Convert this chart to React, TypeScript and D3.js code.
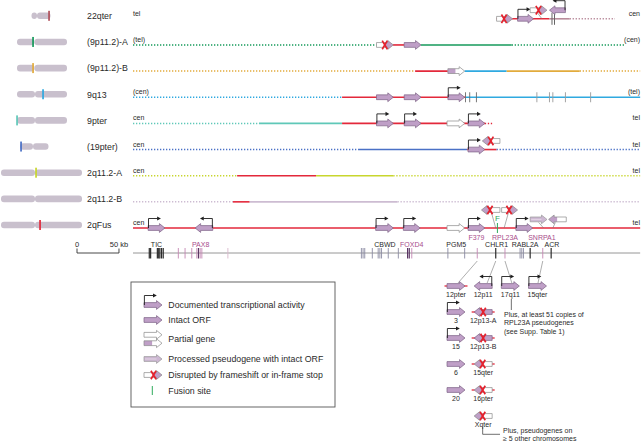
import React from "react";
import * as d3 from "d3";

const FONT = "'Liberation Sans', Arial, Helvetica, sans-serif";

// ---------- data ----------
const rowNames = ["22qter", "(9p11.2)-A", "(9p11.2)-B", "9q13", "9pter", "(19pter)", "2q11.2-A", "2q11.2-B", "2qFus"];
const leftEnds = ["tel", "(tel)", "", "(cen)", "cen", "cen", "cen", "", "cen"];
const rightEnds = ["cen", "(cen)", "", "(tel)", "tel", "tel", "tel", "", "tel"];

const COLORS: Record<string, string> = {
  red: "#e3293b",
  rose: "#b98b9b",
  green: "#169a5b",
  gold: "#e2ab3c",
  sky: "#2fa9e0",
  teal: "#5fc8b8",
  blue: "#4a71c6",
  lime: "#c8d62e",
  mauve: "#cdbcd2",
  band22: "#b0505a",
};

// [row, fromKb, toKb, color, dotted]
const segments: [number, number, number, string, boolean][] = [
  [0, 433, 496, "red", false],
  [0, 496, 520, "rose", false],
  [0, 520, 574, "rose", true],
  [1, 0, 290, "green", true],
  [1, 308, 323, "red", false],
  [1, 343, 451, "green", false],
  [1, 451, 586, "green", true],
  [2, 0, 336, "gold", true],
  [2, 336, 375, "red", false],
  [2, 395, 445, "sky", false],
  [2, 445, 532, "gold", false],
  [2, 532, 604, "gold", true],
  [3, 0, 249, "sky", true],
  [3, 249, 396, "red", false],
  [3, 396, 604, "sky", false],
  [4, 0, 150, "teal", true],
  [4, 150, 249, "teal", false],
  [4, 249, 419, "red", false],
  [4, 419, 429, "red", true],
  [5, 0, 268, "blue", true],
  [5, 268, 398, "blue", false],
  [5, 398, 433, "red", false],
  [5, 433, 604, "blue", true],
  [6, 0, 124, "lime", true],
  [6, 124, 218, "red", false],
  [6, 218, 310, "lime", false],
  [6, 310, 604, "lime", true],
  [7, 0, 119, "mauve", true],
  [7, 119, 139, "red", false],
  [7, 139, 315, "mauve", false],
  [7, 315, 604, "mauve", true],
  [8, 0, 604, "red", false],
];

// [row, startKb, endKb, direction, type, tss, level]
const genes: [number, number, number, number, string, boolean, number][] = [
  [0, 433, 452, 1, "dpartial", false, 0],
  [0, 458, 477, 1, "intact", true, 0],
  [0, 473, 493, 1, "dpartial", false, 1],
  [0, 496, 515, -1, "intact", true, 1],
  [1, 290, 310, 1, "dpartial", false, 0],
  [1, 323, 343, 1, "intact", false, 0],
  [2, 375, 395, 1, "tailpink", false, 0],
  [3, 290, 310, 1, "intact", false, 0],
  [3, 323, 343, 1, "intact", false, 0],
  [3, 375, 395, 1, "intact", true, 0],
  [4, 290, 310, 1, "intact", true, 0],
  [4, 323, 343, 1, "intact", true, 0],
  [4, 374, 395, 1, "partial", false, 0],
  [4, 399, 419, 1, "intact", true, 0],
  [5, 399, 419, 1, "intact", true, 0],
  [5, 416, 437, -1, "dpartial", false, 1],
  [8, 18, 38, 1, "intact", true, 0],
  [8, 74, 95, -1, "intact", true, 0],
  [8, 289, 310, 1, "intact", true, 0],
  [8, 322, 342, 1, "intact", true, 0],
  [8, 374, 395, 1, "partial", false, 0],
  [8, 399, 419, 1, "intact", true, 0],
  [8, 415, 437, -1, "dpartial", false, 2],
  [8, 439, 458, 1, "dpartialR", false, 2],
  [8, 456, 476, 1, "intact", true, 0],
  [8, 473, 493, 1, "processed", false, 1],
  [8, 495, 516, -1, "headpink", false, 1],
];

// [row, fromKb (upper), level, toKb (on line)]
const connectors: [number, number, number, number][] = [
  [0, 482, 1, 487],
  [8, 427, 2, 432],
  [8, 447, 2, 442],
  [8, 483, 1, 489],
  [8, 503, 1, 500],
];
const bars22: number[] = [499, 502];
const ticks9q13: number[] = [396, 401, 409, 481, 496, 500, 515, 545];
const fusionKb = 434;

// ideograms: [row, start, centromere, end, band, bandColor]
const ideograms: [number, number, number, number, number | null, string][] = [
  [0, 31.5, 37, 50.5, 49, "band22"],
  [1, 17, 34.5, 67, 33, "green"],
  [2, 17, 34.5, 67, 33, "gold"],
  [3, 17, 35, 67, 43, "sky"],
  [4, 17, 35, 67, 17, "teal"],
  [5, 20, 33, 48.5, 21, "blue"],
  [6, 1, 35, 82, 36, "lime"],
  [7, 1, 35, 82, null, ""],
  [8, 1, 35, 82, 40, "red"],
];

// gene map ticks: [kb, kind]
const geneTicks: [number, string][] = [
  [19.4, "k"], [21, "k"], [29, "k"], [30.6, "k"], [32, "k"], [34, "k"], [36, "k"],
  [54, "p"], [62, "p"], [70, "p"], [76, "p"], [78, "d"], [80, "p"], [82, "p"], [113, "lp"],
  [272, "g"], [274, "g"], [276, "g"], [285, "g"], [292, "g"], [294, "g"], [296, "g"], [304, "g"], [316, "g"],
  [327, "d"], [329, "d"], [332, "p"],
  [375, "g"], [395, "g"],
  [410, "p"], [432, "k"], [443, "p"],
  [461, "g"], [463, "g"], [465, "g"], [473, "k"],
  [488, "p"], [498, "k"],
];
// [name, kb, tier, pink]
const geneLabels: [string, number, number, boolean][] = [
  ["TIC", 28, 0, false],
  ["PAX8", 80.6, 0, true],
  ["CBWD", 300, 0, false],
  ["FOXD4", 332, 0, true],
  ["PGM5", 385, 0, false],
  ["F379", 409, 1, true],
  ["RPL23A", 443, 1, true],
  ["SNRPA1", 487, 1, true],
  ["CHLR1", 433, 0, false],
  ["RABL2A", 467, 0, false],
  ["ACR", 499, 0, false],
];

// [name, column, row, direction, type, tss, redFlank]
const orthologs: [string, number, number, number, string, boolean, boolean][] = [
  ["12pter", 0, 0, 1, "intact", false, true],
  ["12p11", 1, 0, -1, "intact", true, false],
  ["17q11", 2, 0, 1, "intact", true, false],
  ["15qter", 3, 0, 1, "intact", true, false],
  ["3", 0, 1, 1, "intact", true, false],
  ["15", 0, 2, 1, "intact", true, false],
  ["6", 0, 3, 1, "intact", false, false],
  ["20", 0, 4, 1, "intact", false, false],
  ["12p13-A", 1, 1, -1, "disrupted", false, true],
  ["12p13-B", 1, 2, -1, "disrupted", false, true],
  ["15qter", 1, 3, -1, "dpartial", false, true],
  ["16pter", 1, 4, -1, "dpartial", false, true],
  ["Xqter", 1, 5, -1, "dpartial", false, false],
];
// [geneKb, ortholog column]
const orthoLinks: [number, number][] = [[410, 0], [432, 1], [443, 2], [488, 3]];

const noteRPL = ["Plus, at least 51 copies of", "RPL23A pseudogenes", "(see Supp. Table 1)"];
const noteOther = ["Plus, pseudogenes on", "\u2265 5 other chromosomes"];

const legendLabels = [
  "Documented transcriptional activity",
  "Intact ORF",
  "Partial gene",
  "Processed pseudogene with intact ORF",
  "Disrupted by frameshift or in-frame stop",
  "Fusion site",
];

// ---------- glyph ----------
const PINK = "#bf9fc7";
const EDGE = "#7c6385";
const GREY = "#8a8a8a";

function Glyph(props: { x0: number; x1: number; y: number; dir: number; type: string; tss: boolean }) {
  const { x0, x1, y, dir, type, tss } = props;
  const bh = 2.4, hh = 4.4, hl = 5.5;
  const outline = `M${x0},${y - bh}L${x1 - hl},${y - bh}L${x1 - hl},${y - hh}L${x1},${y}L${x1 - hl},${y + hh}L${x1 - hl},${y + bh}L${x0},${y + bh}Z`;
  let fill = PINK, stroke = EDGE;
  let overlay: any = null;
  const xm = x1 - hl - 3;
  if (type === "partial") { fill = "#fff"; stroke = GREY; }
  if (type === "tailpink") {
    fill = "#fff"; stroke = GREY;
    overlay = <rect x={x0} y={y - bh} width={(x1 - x0) * 0.45} height={2 * bh} fill={PINK} />;
  }
  if (type === "headpink" || type === "dpartial" || type === "dpartialR") {
    fill = "#fff"; stroke = GREY;
    overlay = <path d={`M${xm},${y - bh}L${x1 - hl},${y - bh}L${x1 - hl},${y - hh}L${x1},${y}L${x1 - hl},${y + hh}L${x1 - hl},${y + bh}L${xm},${y + bh}Z`} fill={PINK} />;
  }
  if (type === "processed") { fill = "#cdb8d3"; stroke = "#9a9a9a"; }
  const showX = type === "dpartial" || type === "disrupted" || type === "dpartialR";
  const cx = type === "disrupted" ? (x0 + x1) / 2 : xm;
  const flip = dir < 0 ? `translate(${x0 + x1},0) scale(-1,1)` : undefined;
  return (
    <g transform={flip}>
      <path d={outline} fill={fill} />
      {overlay}
      <path d={outline} fill="none" stroke={stroke} strokeWidth={0.7} />
      {type === "processed" && <line x1={x0 + 1} x2={x1 - hl} y1={y} y2={y} stroke="#e8dcea" strokeWidth={0.8} />}
      {showX && (
        <path d={`M${cx - 2.6},${y - 4.3}L${cx + 2.6},${y + 4.3}M${cx + 2.6},${y - 4.3}L${cx - 2.6},${y + 4.3}`} stroke="#e5212d" strokeWidth={1.7} />
      )}
      {tss && (
        <g>
          <path d={`M${x0 + 0.4},${y}V${y - 9.5}H${x0 + 9.5}`} fill="none" stroke="#1e1e1e" strokeWidth={0.9} />
          <path d={`M${x0 + 9},${y - 11.6}L${x0 + 12.8},${y - 9.5}L${x0 + 9},${y - 7.4}Z`} fill="#1e1e1e" />
        </g>
      )}
    </g>
  );
}

export default function App() {
  const x = d3.scaleLinear().domain([0, 605]).range([133, 641]);
  const rowY = d3.scaleLinear().domain([0, 8]).range([18.8, 228]);
  const levelOffset = d3.scaleOrdinal<number, number>().domain([0, 1, 2]).range([0, -8.6, -18]);
  const ideoX = d3.scaleLinear().domain([0, 82]).range([0, 82]);
  const orthoCol = d3.scaleLinear().domain([0, 3]).range([456, 537.5]);
  const orthoRow = d3.scaleLinear().domain([0, 5]).range([286, 416]);
  const legendY = d3.scaleOrdinal<number, number>().domain([0, 1, 2, 3, 4, 5]).range([305, 320, 339, 359, 375, 390.5]);
  const axisY = 253;
  const tickColor: Record<string, string> = { k: "#2b2b2b", p: "#c487b3", lp: "#d8b8cc", g: "#8a8aa2", d: "#5a3563" };
  const labelPink = "#a94d8c";
  const txt = "#2a2a2a";

  const segLines = segments.map(([r, a, b, c, dotted], i) => (
    <line key={"s" + i} x1={x(a)} x2={x(b)} y1={rowY(r)} y2={rowY(r)} stroke={COLORS[c]}
      strokeWidth={dotted ? 1.5 : 1.6} strokeDasharray={dotted ? "1.3 1.7" : undefined} />
  ));

  return (
    <svg width={642} height={441} viewBox="0 0 642 441" style={{ position: "absolute", left: 0, top: 0, background: "#fff" }} fontFamily={FONT}>
      <rect width={642} height={441} fill="#fff" />
      {/* ideograms */}
      {ideograms.map(([r, s, c, e, band, bc], i) => {
        const cy = rowY(r) - 3;
        const h = 6.6;
        return (
          <g key={"i" + i}>
            <rect x={ideoX(s)} y={cy - h / 2} width={ideoX(c) - ideoX(s)} height={h} rx={3} fill="#c9c0cd" />
            <rect x={ideoX(c)} y={cy - h / 2} width={ideoX(e) - ideoX(c)} height={h} rx={3} fill="#c9c0cd" />
            {band !== null && <rect x={ideoX(band) - 0.8} y={cy - 5} width={1.7} height={10} fill={COLORS[bc]} />}
          </g>
        );
      })}
      {/* row labels */}
      {rowNames.map((n, i) => (
        <text key={"rn" + i} x={87} y={rowY(i) + 0.3} fontSize={8.8} fill={txt}>{n}</text>
      ))}
      {leftEnds.map((n, i) => n && (
        <text key={"le" + i} x={133} y={rowY(i) - 3} fontSize={7} fill={txt}>{n}</text>
      ))}
      {rightEnds.map((n, i) => n && (
        <text key={"re" + i} x={640} y={rowY(i) - 3} fontSize={7} fill={txt} textAnchor="end">{n}</text>
      ))}
      {segLines}
      {/* 9q13 ticks */}
      {ticks9q13.map((k, i) => (
        <line key={"t9" + i} x1={x(k)} x2={x(k)} y1={rowY(3) - 5} y2={rowY(3) + 5} stroke={i < 3 ? "#6a6a6a" : "#9a9a9a"} strokeWidth={0.9} />
      ))}
      {bars22.map((k, i) => (
        <line key={"b22" + i} x1={x(k)} x2={x(k)} y1={rowY(0) - 6} y2={rowY(0) + 6} stroke="#666" strokeWidth={1} />
      ))}
      {connectors.map(([r, a, lv, b], i) => (
        <line key={"c" + i} x1={x(a)} y1={rowY(r) + levelOffset(lv) + 3} x2={x(b)} y2={rowY(r)} stroke="#777" strokeWidth={0.6} />
      ))}
      {/* genes */}
      {genes.map(([r, a, b, dir, type, tss, lv], i) => (
        <Glyph key={"g" + i} x0={x(a)} x1={x(b)} y={rowY(r) + levelOffset(lv)} dir={dir} type={type} tss={tss} />
      ))}
      {/* fusion site */}
      <line x1={x(fusionKb)} x2={x(fusionKb)} y1={rowY(8) - 5} y2={rowY(8) + 5} stroke="#2faa5c" strokeWidth={1} />
      <text x={x(fusionKb)} y={rowY(8) - 7.5} fontSize={8} fill="#2faa5c" textAnchor="middle">F</text>

      {/* scale bar */}
      <path d={`M77,${axisY - 4.5}V${axisY}H${77 + x(50) - x(0)}V${axisY - 4.5}`} fill="none" stroke="#333" strokeWidth={0.9} />
      <text x={77} y={246.5} fontSize={7.5} fill={txt} textAnchor="middle">0</text>
      <text x={119} y={246.5} fontSize={7.5} fill={txt} textAnchor="middle">50 kb</text>

      {/* gene map axis */}
      <line x1={x(0)} x2={x(604)} y1={axisY} y2={axisY} stroke="#8a8a8a" strokeWidth={0.9} />
      {geneTicks.map(([k, kind], i) => (
        <line key={"gt" + i} x1={x(k)} x2={x(k)} y1={axisY - 5} y2={axisY + 5.5} stroke={tickColor[kind]} strokeWidth={kind === "k" || kind === "d" ? 1.2 : 0.9} />
      ))}
      {geneLabels.map(([n, k, tier, pink], i) => (
        <text key={"gl" + i} x={x(k)} y={tier === 0 ? 247 : 240} fontSize={7} fill={pink ? labelPink : txt} textAnchor="middle">{n}</text>
      ))}
      {orthoLinks.map(([k, c], i) => (
        <line key={"ol" + i} x1={x(k)} y1={261} x2={orthoCol(c) + [2, 4, 1.5, 0.5][i]} y2={283} stroke="#777" strokeWidth={0.6} />
      ))}
      {/* orthologs */}
      {orthologs.map(([n, c, r, dir, type, tss, flank], i) => {
        const cx = orthoCol(c), cy = orthoRow(r);
        return (
          <g key={"o" + i}>
            {flank && <line x1={cx - 11.5} x2={cx + 11.5} y1={cy} y2={cy} stroke={COLORS.red} strokeWidth={1.3} />}
            <Glyph x0={cx - 9} x1={cx + 9} y={cy} dir={dir} type={type} tss={tss} />
            <text x={cx} y={cy + 11} fontSize={7} fill={txt} textAnchor="middle">{n}</text>
          </g>
        );
      })}
      <line x1={orthoCol(2) + 1} x2={orthoCol(2) + 1} y1={299} y2={310} stroke="#333" strokeWidth={0.7} />
      {noteRPL.map((t, i) => (
        <text key={"nr" + i} x={504} y={316.5 + i * 8.5} fontSize={7} fill={txt}>{t}</text>
      ))}
      <path d={`M${orthoCol(1) - 0.5},427V434.3H500`} fill="none" stroke="#333" strokeWidth={0.7} />
      {noteOther.map((t, i) => (
        <text key={"no" + i} x={503} y={432.5 + i * 8.5} fontSize={7} fill={txt}>{t}</text>
      ))}

      {/* legend */}
      <rect x={131} y={282} width={204} height={125} fill="none" stroke="#555" strokeWidth={0.9} />
      <Glyph x0={144} x1={162} y={legendY(0)} dir={1} type="intact" tss={true} />
      <Glyph x0={144} x1={162} y={legendY(1)} dir={1} type="intact" tss={false} />
      <Glyph x0={144} x1={162} y={legendY(2) - 4.2} dir={1} type="partial" tss={false} />
      <Glyph x0={144} x1={162} y={legendY(2) + 4.2} dir={1} type="tailpink" tss={false} />
      <Glyph x0={144} x1={162} y={legendY(3)} dir={1} type="processed" tss={false} />
      <Glyph x0={144} x1={162} y={legendY(4)} dir={1} type="dpartial" tss={false} />
      <line x1={152.3} x2={152.3} y1={legendY(5) - 4.5} y2={legendY(5) + 4.5} stroke="#2faa5c" strokeWidth={1} />
      {legendLabels.map((t, i) => (
        <text key={"ll" + i} x={168.3} y={legendY(i) + 3.1} fontSize={8.8} fill={txt}>{t}</text>
      ))}
    </svg>
  );
}
